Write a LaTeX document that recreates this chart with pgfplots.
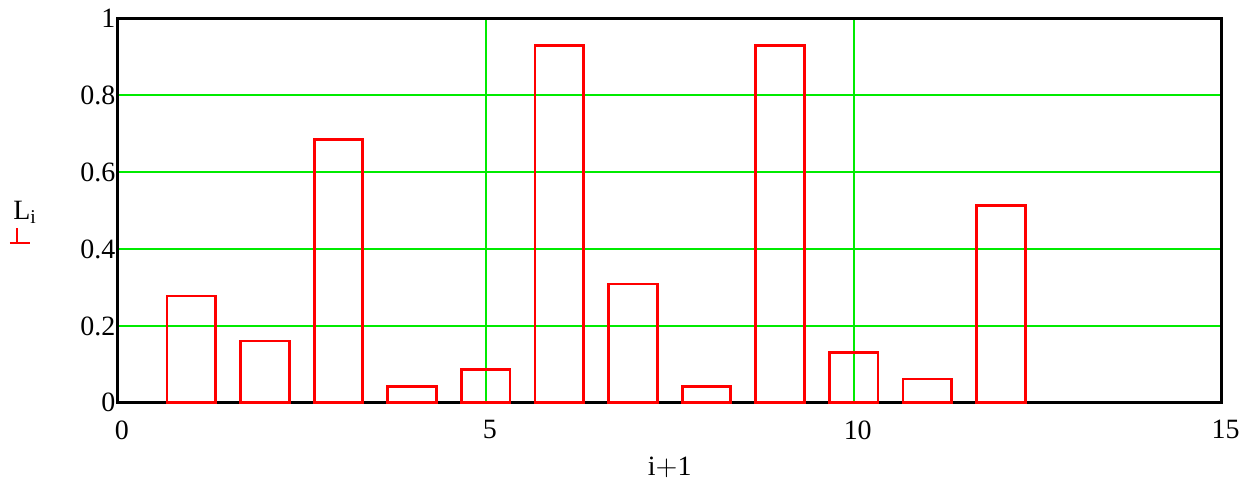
\documentclass[border=0pt]{standalone}
\usepackage{fontspec}
\setmainfont{Liberation Serif}
\usepackage{pgfplots}
\pgfplotsset{compat=1.18}
\begin{document}
\fontsize{14pt}{16pt}\selectfont
\begin{tikzpicture}
\begin{axis}[name=ax,
  scale only axis, width=553pt, height=192.5pt,
  xmin=0, xmax=15, ymin=0, ymax=1,
  xtick={0,5,10,15}, ytick={0,0.2,0.4,0.6,0.8,1},
  yticklabels={0,0.2,0.4,0.6,0.8,1},
  /pgf/number format/assume math mode=true,
  major tick length=0pt,
  tick label style={font=\fontsize{14pt}{16pt}\selectfont},
  grid=major, major grid style={draw={rgb,255:red,0;green,235;blue,0}, line width=0.9pt},
  axis line style={line width=1.4pt, black},
  xticklabel style={yshift=-4pt, xshift=2pt},
  yticklabel style={inner xsep=1pt},
  clip=false,
]
\addplot[ybar, bar width=0.66, draw=red, fill=none, line width=1.4pt] coordinates {
(1,0.278) (2,0.161) (3,0.686) (4,0.042) (5,0.086) (6,0.930)
(7,0.309) (8,0.042) (9,0.930) (10,0.130) (11,0.062) (12,0.514)};
\node at (axis description cs:-0.084,0.496) {L$_{\mathrm{i}}$};
\draw[red, line width=1.4pt] (axis description cs:-0.0977,0.416) -- (axis description cs:-0.0796,0.416);
\draw[red, line width=1.4pt] (axis description cs:-0.0913,0.416) -- (axis description cs:-0.0913,0.455);
\node at (axis description cs:0.5,-0.169) {i$+$1};
\end{axis}
\path (ax.south west) ++(-59pt,-41.5pt) coordinate (bl);
\path (ax.north east) ++(12.5pt,9pt) coordinate (tr);
\path (bl) (tr);
\end{tikzpicture}
\end{document}
